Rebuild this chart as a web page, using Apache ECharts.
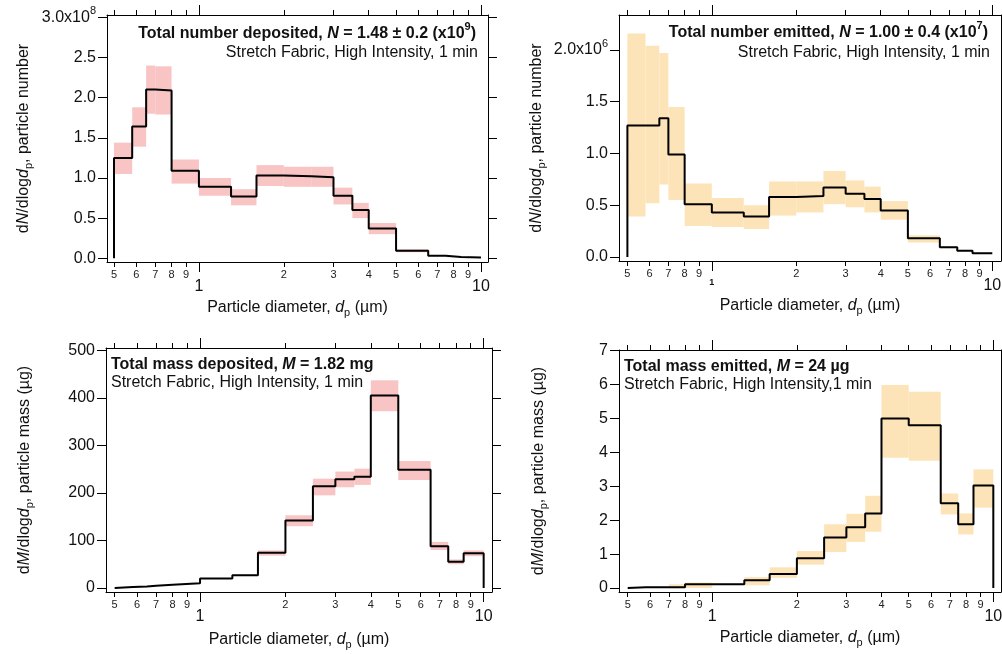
<!DOCTYPE html>
<html>
<head>
<meta charset="utf-8">
<script src="https://cdn.jsdelivr.net/npm/echarts@6/dist/echarts.min.js"></script>
<style>
html, body { margin: 0; padding: 0; background: #fff; }
#chart { width: 1002px; height: 654px; }
</style>
</head>
<body>
<div id="chart"></div>
<script>
// size bin edges (µm)
const binEdges = [0.5, 0.58, 0.65, 0.7, 0.8, 1.0, 1.3, 1.6, 2, 2.5, 3, 3.5, 4, 5, 6.5, 7.5, 8.5, 10];
const minorTicks = [0.5, 0.6, 0.7, 0.8, 0.9, 2, 3, 4, 5, 6, 7, 8, 9];
const majorTicks = [1, 10];

// number deposited
const numDepValue = [1.25e8, 1.64e8, 2.10e8, 2.09e8, 1.09e8, 0.89e8, 0.77e8, 1.03e8, 1.02e8, 1.01e8, 0.78e8, 0.60e8, 0.37e8, 0.095e8, 0.033e8, 0.017e8, 0.010e8];
const numDepLow   = [1.05e8, 1.39e8, 1.80e8, 1.79e8, 0.93e8, 0.78e8, 0.66e8, 0.90e8, 0.89e8, 0.89e8, 0.67e8, 0.50e8, 0.30e8, 0.075e8, 0.028e8, 0.014e8, 0.008e8];
const numDepHigh  = [1.44e8, 1.88e8, 2.40e8, 2.39e8, 1.23e8, 1.00e8, 0.86e8, 1.16e8, 1.14e8, 1.14e8, 0.88e8, 0.69e8, 0.44e8, 0.112e8, 0.038e8, 0.020e8, 0.012e8];
const numDepYTicks = [0, 0.5e8, 1.0e8, 1.5e8, 2.0e8, 2.5e8, 3.0e8];

// number emitted
const numEmiValue = [1.27e6, 1.27e6, 1.34e6, 0.99e6, 0.51e6, 0.43e6, 0.39e6, 0.58e6, 0.59e6, 0.67e6, 0.61e6, 0.56e6, 0.45e6, 0.18e6, 0.093e6, 0.060e6, 0.035e6];
const numEmiLow   = [0.39e6, 0.52e6, 0.70e6, 0.55e6, 0.30e6, 0.29e6, 0.27e6, 0.40e6, 0.43e6, 0.51e6, 0.48e6, 0.43e6, 0.36e6, 0.14e6, 0.085e6, 0.055e6, 0.030e6];
const numEmiHigh  = [2.16e6, 2.04e6, 1.97e6, 1.45e6, 0.71e6, 0.57e6, 0.50e6, 0.73e6, 0.73e6, 0.83e6, 0.74e6, 0.68e6, 0.54e6, 0.21e6, 0.100e6, 0.068e6, 0.040e6];
const numEmiYTicks = [0, 0.5e6, 1.0e6, 1.5e6, 2.0e6];

// mass deposited (µg)
const massDepValue = [2, 3, 5, 7, 10, 20, 27, 74, 142, 214, 229, 234, 405, 249, 88, 55, 73];
const massDepLow   = [2, 3, 5, 7, 10, 19, 26, 68, 130, 195, 212, 217, 372, 227, 80, 50, 67];
const massDepHigh  = [2, 3, 5, 7, 10, 21, 28, 79, 153, 230, 245, 251, 437, 267, 97, 60, 79];
const massDepYTicks = [0, 100, 200, 300, 400, 500];

// mass emitted (µg)
const massEmiValue = [0.02, 0.02, 0.02, 0.02, 0.11, 0.11, 0.23, 0.41, 0.88, 1.49, 1.79, 2.2, 5.0, 4.8, 2.5, 1.88, 3.02];
const massEmiLow   = [0.02, 0.02, 0.02, 0, 0, 0.09, 0.08, 0.30, 0.69, 1.06, 1.36, 1.66, 3.84, 3.75, 2.17, 1.58, 2.37];
const massEmiHigh  = [0.02, 0.02, 0.02, 0.11, 0.16, 0.13, 0.32, 0.61, 1.09, 1.88, 2.19, 2.72, 5.99, 5.79, 2.79, 2.20, 3.50];
const massEmiYTicks = [0, 1, 2, 3, 4, 5, 6, 7];

const FONT = '"Liberation Sans", Arial, sans-serif';
const INK = '#111';
const PINK = '#f8c4c4';
const ORANGE = '#fde4b8';

const nameRich = {
    t: { fontSize: 16, fontFamily: FONT, color: INK, lineHeight: 20 },
    i: { fontSize: 16, fontFamily: FONT, color: INK, fontStyle: 'italic', lineHeight: 20 },
    s: { fontSize: 11, fontFamily: FONT, color: INK, verticalAlign: 'bottom', lineHeight: 8 }
};
const xName = '{t|Particle diameter, }{i|d}{s|p}{t| (µm)}';
const numName = '{t|d}{i|N}{t|/dlog}{i|d}{s|p}{t|, particle number}';
const massName = '{t|d}{i|M}{t|/dlog}{i|d}{s|p}{t|, particle mass (µg)}';

const panels = [
    {
        grid: { left: 107, top: 15, width: 381, height: 247 },
        xMin: 0.4722, xMax: 10.59, yMin: -0.046e8, yMax: 3.029e8,
        yTicks: numDepYTicks, yFmt: v => v === 3e8 ? '{a|3.0x10}{s|8}' : (v / 1e8).toFixed(1),
        value: numDepValue, low: numDepLow, high: numDepHigh, band: PINK, dropEnd: false,
        yName: numName, yGap: 73, xGap: 36,
        title: '{b|Total number deposited, }{bi|N}{b| = 1.48 ± 0.2 (x10}{bs|9}{b|)}',
        sub: 'Stretch Fabric, High Intensity, 1 min',
        tx: 476, ty: 34, sy: 53, align: 'right'
    },
    {
        grid: { left: 619, top: 15, width: 382, height: 246 },
        xMin: 0.4667, xMax: 10.74, yMin: -0.039e6, yMax: 2.338e6,
        yTicks: numEmiYTicks, yFmt: v => v === 2e6 ? '{a|2.0x10}{s|6}' : (v / 1e6).toFixed(1),
        value: numEmiValue, low: numEmiLow, high: numEmiHigh, band: ORANGE, dropEnd: false,
        yName: numName, yGap: 72, xGap: 35, smallOne: true,
        title: '{b|Total number emitted, }{bi|N}{b| = 1.00 ± 0.4 (x10}{bs|7}{b|)}',
        sub: 'Stretch Fabric, High Intensity, 1 min',
        tx: 988, ty: 33, sy: 53, align: 'right'
    },
    {
        grid: { left: 106, top: 348, width: 386, height: 244 },
        xMin: 0.466, xMax: 10.7, yMin: -8.4, yMax: 505,
        yTicks: massDepYTicks, yFmt: v => String(v),
        value: massDepValue, low: massDepLow, high: massDepHigh, band: PINK, dropEnd: true,
        yName: massName, yGap: 71, xGap: 38,
        title: '{b|Total mass deposited, }{bi|M}{b| = 1.82 mg}',
        sub: 'Stretch Fabric, High Intensity, 1 min',
        tx: 111, ty: 365, sy: 383, align: 'left'
    },
    {
        grid: { left: 619, top: 350, width: 382, height: 242 },
        xMin: 0.4656, xMax: 10.65, yMin: -0.118, yMax: 7.02,
        yTicks: massEmiYTicks, yFmt: v => String(v),
        value: massEmiValue, low: massEmiLow, high: massEmiHigh, band: ORANGE, dropEnd: true,
        yName: massName, yGap: 70, xGap: 36,
        title: '{b|Total mass emitted, }{bi|M}{b| = 24 µg}',
        sub: 'Stretch Fabric, High Intensity,1 min',
        tx: 624, ty: 367, sy: 385, align: 'left'
    }
];

const option = { animation: false, backgroundColor: '#fff', grid: [], xAxis: [], yAxis: [], series: [], graphic: [] };

panels.forEach((p, gi) => {
    option.grid.push(Object.assign({ outerBoundsMode: 'none', containLabel: false }, p.grid));

    const lineStyle = { color: '#000', width: 1 };
    const xBase = {
        type: 'log', gridIndex: gi, min: p.xMin, max: p.xMax,
        splitLine: { show: false }, minorTick: { show: false },
        axisLine: { onZero: false, lineStyle: lineStyle }
    };
    const xi = option.xAxis.length;
    // bottom, minor ticks + data
    option.xAxis.push(Object.assign({}, xBase, {
        position: 'bottom',
        axisTick: { customValues: minorTicks, length: 5, lineStyle: lineStyle },
        axisLabel: {
            customValues: minorTicks, margin: 7, fontSize: 11, fontFamily: FONT, color: '#222',
            formatter: v => String(Math.round(v < 1 ? v * 10 : v))
        },
        name: xName, nameLocation: 'middle', nameGap: p.xGap,
        nameTextStyle: { rich: nameRich }
    }));
    // bottom, major ticks
    option.xAxis.push(Object.assign({}, xBase, {
        position: 'bottom',
        axisLine: { show: false, onZero: false },
        axisTick: { customValues: majorTicks, length: 10, lineStyle: lineStyle },
        axisLabel: {
            customValues: majorTicks, margin: 17, fontSize: 16, fontFamily: FONT, color: INK,
            formatter: v => (p.smallOne && v === 1) ? '{m|1}' : String(Math.round(v)),
            rich: { m: { fontSize: 9, fontWeight: 'bold', fontFamily: FONT, color: INK, padding: [0, 0, 4, 0] } }
        }
    }));
    // top mirror
    option.xAxis.push(Object.assign({}, xBase, {
        position: 'top',
        axisTick: { customValues: minorTicks, length: 5, lineStyle: lineStyle },
        axisLabel: { show: false }
    }));
    option.xAxis.push(Object.assign({}, xBase, {
        position: 'top',
        axisLine: { show: false, onZero: false },
        axisTick: { customValues: majorTicks, length: 10, lineStyle: lineStyle },
        axisLabel: { show: false }
    }));

    const yBase = {
        type: 'value', gridIndex: gi, min: p.yMin, max: p.yMax,
        splitLine: { show: false },
        axisLine: { show: true, onZero: false, lineStyle: lineStyle },
        axisTick: { show: true, customValues: p.yTicks, length: 9, lineStyle: lineStyle }
    };
    const yi = option.yAxis.length;
    option.yAxis.push(Object.assign({}, yBase, {
        position: 'left',
        axisLabel: {
            customValues: p.yTicks, margin: 11, fontSize: 16, fontFamily: FONT, color: INK,
            formatter: p.yFmt,
            rich: {
                a: { fontSize: 16, fontFamily: FONT, color: INK, lineHeight: 24 },
                s: { fontSize: 11, fontFamily: FONT, color: INK, verticalAlign: 'top', lineHeight: 9 }
            }
        },
        name: p.yName, nameLocation: 'middle', nameGap: p.yGap, nameRotate: 90,
        nameTextStyle: { rich: nameRich }
    }));
    option.yAxis.push(Object.assign({}, yBase, {
        position: 'right',
        axisLabel: { show: false }
    }));

    // uncertainty bands
    const bandData = p.value.map((v, i) => [binEdges[i], binEdges[i + 1], p.low[i], p.high[i]]);
    option.series.push({
        type: 'custom', xAxisIndex: xi, yAxisIndex: yi, z: 1,
        encode: { x: [0, 1], y: [2, 3] },
        data: bandData,
        renderItem: (params, api) => {
            const a = api.coord([api.value(0), api.value(3)]);
            const b = api.coord([api.value(1), api.value(2)]);
            return {
                type: 'rect',
                shape: { x: a[0], y: a[1], width: b[0] - a[0], height: b[1] - a[1] },
                style: { fill: p.band }
            };
        }
    });

    // step histogram
    const stepData = [[binEdges[0], 0]];
    p.value.forEach((v, i) => {
        stepData.push([binEdges[i], v]);
        stepData.push([binEdges[i + 1], v]);
    });
    if (p.dropEnd) stepData.push([binEdges[binEdges.length - 1], 0]);
    option.series.push({
        type: 'line', xAxisIndex: xi, yAxisIndex: yi, z: 3,
        data: stepData, showSymbol: false, symbol: 'none',
        lineStyle: { color: '#000', width: 2 }
    });

    option.graphic.push({
        type: 'text', x: p.tx, y: p.ty, z: 10,
        style: {
            text: p.title, align: p.align, verticalAlign: 'middle',
            rich: {
                b: { fontSize: 16, fontWeight: 'bold', fontFamily: FONT, fill: INK, lineHeight: 26 },
                bi: { fontSize: 16, fontWeight: 'bold', fontStyle: 'italic', fontFamily: FONT, fill: INK, lineHeight: 26 },
                bs: { fontSize: 11, fontWeight: 'bold', fontFamily: FONT, fill: INK, verticalAlign: 'top', lineHeight: 9 }
            }
        }
    });
    option.graphic.push({
        type: 'text', x: p.tx + (p.align === 'right' ? 2 : 0), y: p.sy, z: 10,
        style: {
            text: p.sub, align: p.align, verticalAlign: 'middle',
            font: '16px ' + FONT, fill: INK
        }
    });
});

const chart = echarts.init(document.getElementById('chart'));
chart.setOption(option);
</script>
</body>
</html>
